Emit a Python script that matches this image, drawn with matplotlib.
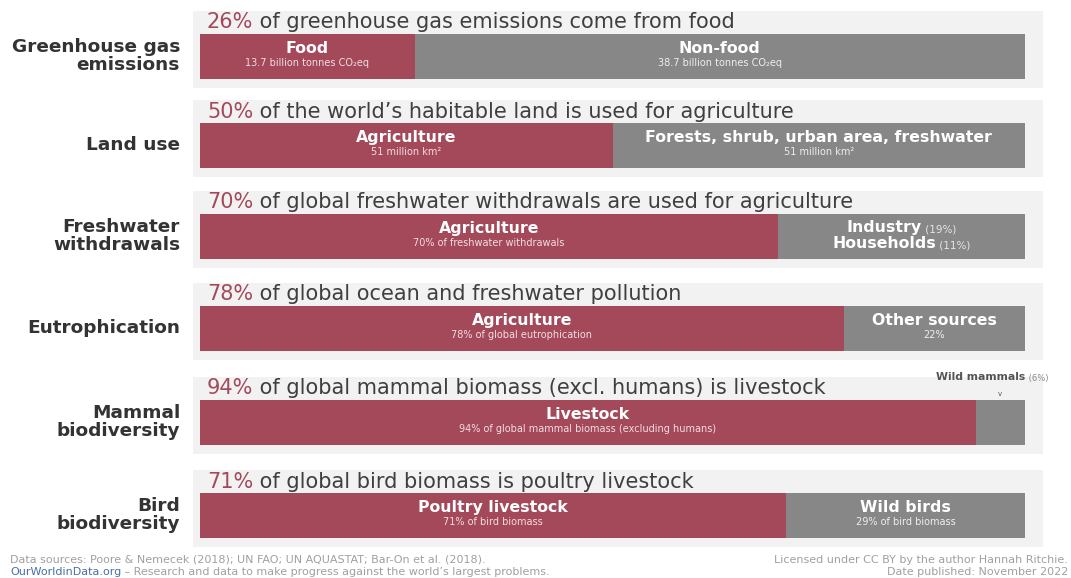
import matplotlib
matplotlib.use("Agg")
import matplotlib.pyplot as plt
from matplotlib.patches import Rectangle
from matplotlib.transforms import ScaledTranslation

plt.rcParams['font.family'] = ['DejaVu Sans']

# data
metrics = ["Greenhouse gas\nemissions", "Land use", "Freshwater\nwithdrawals",
           "Eutrophication", "Mammal\nbiodiversity", "Bird\nbiodiversity"]
food_share = [26, 50, 70, 78, 94, 71]
headline_rest = [" of greenhouse gas emissions come from food",
                 " of the world\u2019s habitable land is used for agriculture",
                 " of global freshwater withdrawals are used for agriculture",
                 " of global ocean and freshwater pollution",
                 " of global mammal biomass (excl. humans) is livestock",
                 " of global bird biomass is poultry livestock"]
food_labels = ["Food", "Agriculture", "Agriculture", "Agriculture", "Livestock", "Poultry livestock"]
food_notes = ["13.7 billion tonnes CO\u2082eq", "51 million km\u00b2", "70% of freshwater withdrawals",
              "78% of global eutrophication", "94% of global mammal biomass (excluding humans)",
              "71% of bird biomass"]
other_labels = ["Non-food", "Forests, shrub, urban area, freshwater", "", "Other sources", "", "Wild birds"]
other_notes = ["38.7 billion tonnes CO\u2082eq", "51 million km\u00b2", "", "22%", "", "29% of bird biomass"]
water_parts = [("Industry", "(19%)"), ("Households", "(11%)")]
wild_mammals = ("Wild mammals", "(6%)")

RED = "#a4495a"
GREY = "#878787"
PANEL = "#f2f2f2"

row_y = [56, 145, 236, 328, 422, 515]
bar_h = 45

fig = plt.figure(figsize=(10.71, 5.78), dpi=100)
ax = fig.add_axes([0, 0, 1, 1])
# x: 0..100 maps to pixels 200..1025
sc = 8.25
ax.set_xlim(-200 / sc, (1071 - 200) / sc)
ax.set_ylim(578, 0)
ax.axis("off")
rend = fig.canvas.get_renderer()


def px(x):
    return (x - 200) / sc


def mixed(x, y, parts, ha="left"):
    texts = [ax.text(x, y, s, va="baseline", ha="left", **kw) for s, kw in parts]
    widths = [t.get_window_extent(rend).width for t in texts]
    off = {"left": 0, "center": -sum(widths) / 2, "right": -sum(widths)}[ha]
    for t, w in zip(texts, widths):
        t.set_transform(ax.transData + ScaledTranslation(off / fig.dpi, 0, fig.dpi_scale_trans))
        off += w


for i, y in enumerate(row_y):
    share = food_share[i]
    top = y - bar_h / 2
    ax.add_patch(Rectangle((px(193), top - 23), 850 / sc, bar_h + 32, color=PANEL, zorder=0, lw=0))
    ax.barh(y, share, height=bar_h, left=0, color=RED, zorder=2)
    ax.barh(y, 100 - share, height=bar_h, left=share, color=GREY, zorder=2)
    ax.text(px(180), y, metrics[i], ha="right", va="center", fontsize=13.3,
            fontweight="bold", color="#333333", linespacing=1.0)
    mixed(px(207), top - 5, [("%d%%" % share, dict(color=RED, fontsize=15)),
                             (headline_rest[i], dict(color="#3f3f3f", fontsize=15))])
    cx = share / 2
    ax.text(cx, y - 3, food_labels[i], ha="center", va="baseline", color="white",
            fontsize=11.3, fontweight="bold", zorder=3)
    ax.text(cx, y + 10, food_notes[i], ha="center", va="baseline", color="#f3dde1",
            fontsize=7, zorder=3)
    ox = share + (100 - share) / 2
    if other_labels[i]:
        ax.text(ox, y - 3, other_labels[i], ha="center", va="baseline", color="white",
                fontsize=11.3, fontweight="bold", zorder=3)
        ax.text(ox, y + 10, other_notes[i], ha="center", va="baseline", color="#eeeeee",
                fontsize=7, zorder=3)
    if i == 2:
        for k, (name, pct) in enumerate(water_parts):
            mixed(ox, y - 4 + 16 * k, [(name, dict(color="white", fontsize=11.3, fontweight="bold", zorder=3)),
                                       (" " + pct, dict(color="#e6e6e6", fontsize=7.5, zorder=3))], ha="center")
    if i == 4:
        mixed(px(1048), top - 19, [(wild_mammals[0], dict(color="#555555", fontsize=7.8, fontweight="bold")),
                                   (" " + wild_mammals[1], dict(color="#888888", fontsize=6))], ha="right")
        ax.text(ox, top - 4, "v", ha="center", va="baseline", color="#555555", fontsize=5)

foot = dict(fontsize=8.0, color="#a0a0a0")
ax.text(px(10), 563, "Data sources: Poore & Nemecek (2018); UN FAO; UN AQUASTAT; Bar-On et al. (2018).",
        va="baseline", **foot)
mixed(px(10), 575, [("OurWorldinData.org", dict(fontsize=8.0, color="#4a6fa5")),
                    (" \u2013 Research and data to make progress against the world\u2019s largest problems.", foot)])
ax.text(px(1068), 563, "Licensed under CC BY by the author Hannah Ritchie.",
        va="baseline", ha="right", **foot)
ax.text(px(1068), 575, "Date published: November 2022", va="baseline", ha="right", **foot)

fig.savefig("out.png", dpi=100, facecolor="white")
